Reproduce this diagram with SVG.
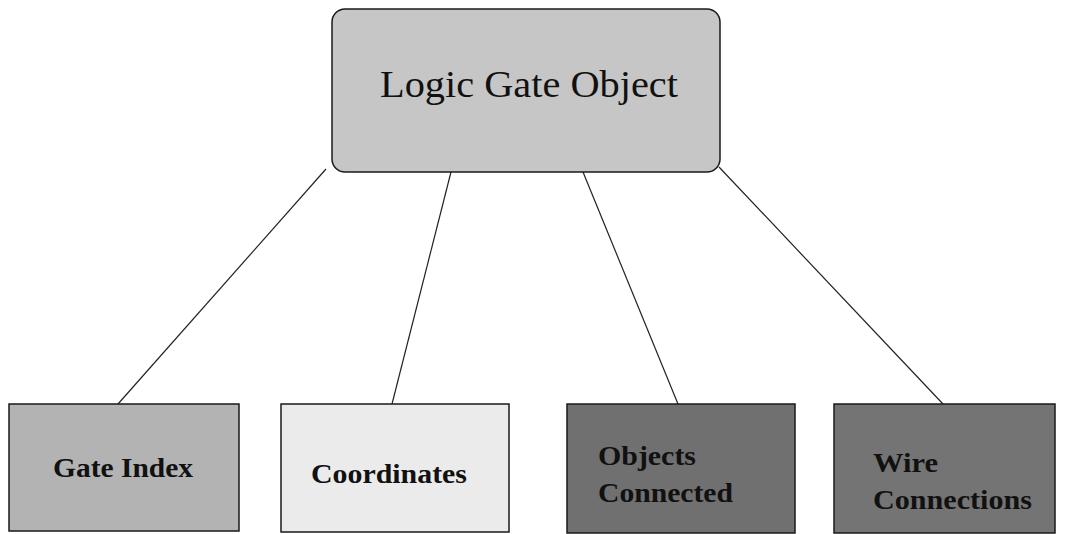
<svg xmlns="http://www.w3.org/2000/svg" width="1082" height="534" viewBox="0 0 1082 534">
<style>
.box{stroke:#1a1a1a;stroke-width:1.5}
.lbl{font-family:"Liberation Serif","Times New Roman",serif;fill:#111}
.b{font-weight:bold;font-size:27px}
.conn{stroke:#222;stroke-width:1.2;fill:none}
</style>
<rect width="1082" height="534" fill="#ffffff"/>
<g id="connectors">
<line class="conn" x1="326" y1="169" x2="118" y2="404"/>
<line class="conn" x1="451" y1="172" x2="392" y2="404"/>
<line class="conn" x1="583" y1="172" x2="678" y2="404"/>
<line class="conn" x1="719" y1="167" x2="943" y2="404"/>
</g>
<g id="logic-gate-object">
<rect class="box" x="332" y="9" width="388" height="163" rx="13" fill="#c6c6c6"/>
<text class="lbl" x="380" y="97" font-size="38" textLength="298" lengthAdjust="spacingAndGlyphs">Logic Gate Object</text>
</g>
<g id="gate-index">
<rect class="box" x="9" y="404" width="230" height="127" fill="#b3b3b3"/>
<text class="lbl b" x="53" y="477" textLength="140" lengthAdjust="spacingAndGlyphs">Gate Index</text>
</g>
<g id="coordinates">
<rect class="box" x="281" y="404" width="228" height="128" fill="#ebebeb"/>
<text class="lbl b" x="311" y="483" textLength="156" lengthAdjust="spacingAndGlyphs">Coordinates</text>
</g>
<g id="objects-connected">
<rect class="box" x="567" y="404" width="228" height="129" fill="#707070"/>
<text class="lbl b" x="598" y="465" textLength="98" lengthAdjust="spacingAndGlyphs">Objects</text>
<text class="lbl b" x="598" y="502" textLength="135" lengthAdjust="spacingAndGlyphs">Connected</text>
</g>
<g id="wire-connections">
<rect class="box" x="834" y="404" width="221" height="129" fill="#747474"/>
<text class="lbl b" x="873" y="472" textLength="65" lengthAdjust="spacingAndGlyphs">Wire</text>
<text class="lbl b" x="873" y="509" textLength="159" lengthAdjust="spacingAndGlyphs">Connections</text>
</g>
</svg>
